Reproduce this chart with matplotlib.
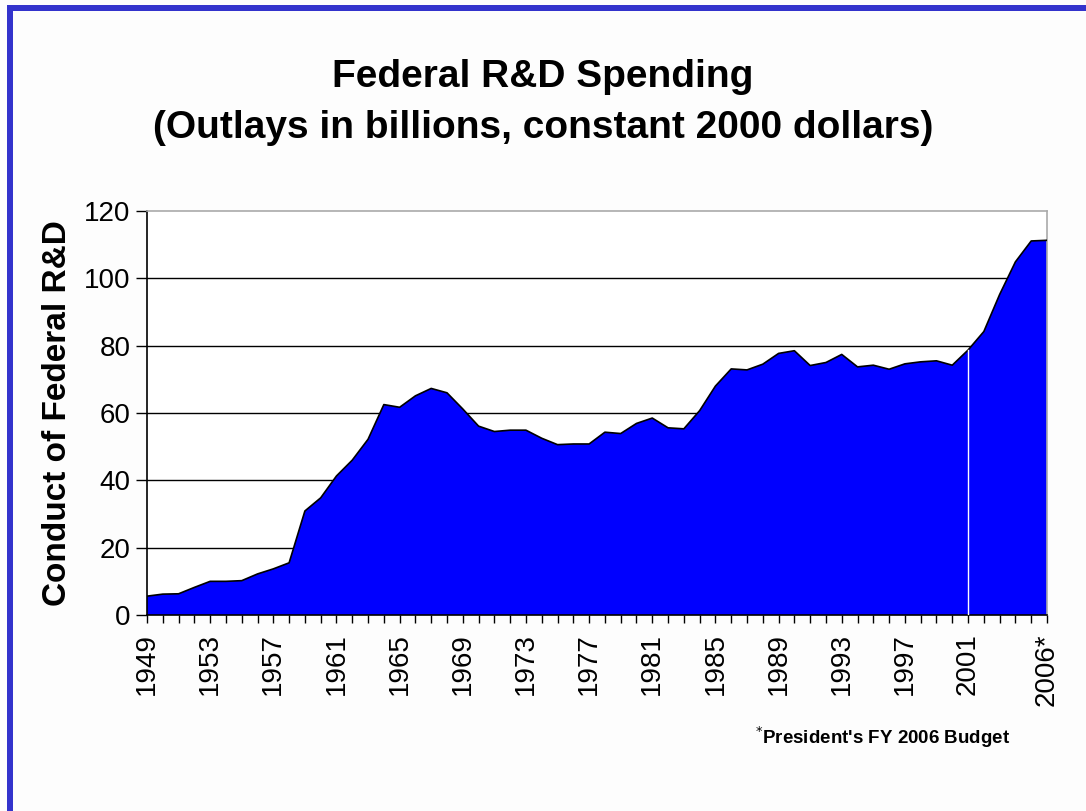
import matplotlib
matplotlib.use("Agg")
import matplotlib.pyplot as plt
from matplotlib.patches import Rectangle
from matplotlib.ticker import MultipleLocator, FixedLocator

plt.rcParams['font.family'] = ['Liberation Sans', 'DejaVu Sans']

years = list(range(1949, 2007))
outlays = [5.6, 6.2, 6.3, 8.2, 10.0, 10.0, 10.2, 12.2, 13.7, 15.5,
           30.9, 34.8, 41.3, 46.0, 52.2, 62.5, 61.7, 65.1, 67.3, 66.0,
           61.2, 56.1, 54.5, 54.9, 54.9, 52.5, 50.6, 50.8, 50.8, 54.3,
           53.9, 56.9, 58.5, 55.6, 55.3, 60.7, 68.0, 73.1, 72.8, 74.5,
           77.7, 78.5, 74.1, 75.0, 77.4, 73.7, 74.2, 73.0, 74.6, 75.2,
           75.5, 74.2, 78.7, 84.2, 95.2, 104.9, 111.1, 111.3]
label_years = [1949, 1953, 1957, 1961, 1965, 1969, 1973, 1977, 1981,
               1985, 1989, 1993, 1997, 2001, 2006]
label_texts = ['1949', '1953', '1957', '1961', '1965', '1969', '1973', '1977',
               '1981', '1985', '1989', '1993', '1997', '2001', '2006*']
y_ticks = [0, 20, 40, 60, 80, 100, 120]
marker_year = 2001

W, H = 1086, 811
fig = plt.figure(figsize=(W / 100, H / 100), dpi=100)
fig.patch.set_facecolor('#fdfdfd')

# blue frame (left and top edges visible)
border = '#3333cc'
fig.add_artist(Rectangle((7 / W, 0), 6 / W, (H - 5) / H, transform=fig.transFigure,
                         facecolor=border, edgecolor='none'))
fig.add_artist(Rectangle((7 / W, (H - 11) / H), (W - 7) / W, 6 / H, transform=fig.transFigure,
                         facecolor=border, edgecolor='none'))

ax = fig.add_axes([147 / W, (H - 615) / H, 900 / W, 404 / H])
ax.set_facecolor('white')

for y in y_ticks[1:-1]:
    ax.axhline(y, color='black', lw=1.0, zorder=1)

ax.fill_between(years, outlays, 0, facecolor='#0000ff', edgecolor='none', zorder=2)
ax.plot(years, outlays, color='black', lw=1.2, zorder=3)
mv = outlays[years.index(marker_year)]
ax.plot([marker_year, marker_year], [0, mv], color='white', lw=1.0, zorder=4)

ax.set_xlim(1949, 2006)
ax.set_ylim(0, 120)
ax.xaxis.set_major_locator(FixedLocator(label_years))
ax.set_xticklabels(label_texts, rotation=90, fontsize=20)
ax.xaxis.set_minor_locator(MultipleLocator(1))
ax.tick_params(axis='x', which='both', direction='out', length=6, width=1, color='black', pad=7)
ax.set_yticks(y_ticks)
ax.set_yticklabels([str(v) for v in y_ticks], fontsize=20)
ax.tick_params(axis='y', direction='out', length=8, width=1, color='black', pad=4)

for s in ['left', 'bottom']:
    ax.spines[s].set_color('black')
    ax.spines[s].set_linewidth(1.2)
for s in ['top', 'right']:
    ax.spines[s].set_color('#aaaaaa')
    ax.spines[s].set_linewidth(1.2)

ax.set_ylabel('Conduct of Federal R&D', fontsize=24, fontweight='bold', labelpad=8)

fig.text(0.5, (H - 77) / H, 'Federal R&D Spending', ha='center', va='center',
         fontsize=28, fontweight='bold')
fig.text(0.5, (H - 128) / H, '(Outlays in billions, constant 2000 dollars)', ha='center',
         va='center', fontsize=28, fontweight='bold')

fig.text(1010 / W, (H - 737) / H, "$^{*}$President's FY 2006 Budget", ha='right', va='center',
         fontsize=13.5, fontweight='bold')

fig.savefig('out.png', dpi=100, facecolor=fig.get_facecolor())
